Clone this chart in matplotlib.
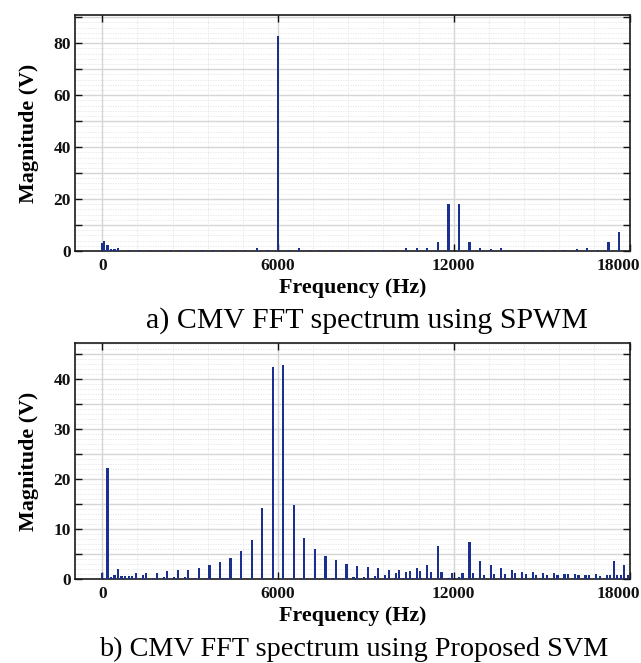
import matplotlib
matplotlib.use("Agg")
import matplotlib.pyplot as plt
from matplotlib.ticker import MultipleLocator, FixedLocator
from matplotlib.transforms import ScaledTranslation
import numpy as np

# ---------------- data ----------------
# (a) SPWM spectrum
spwm_freq = [0, 60, 180, 300, 420, 540, 900, 1260, 1620, 1980, 2340, 2700, 3060,
             3420, 3780, 4140, 4500, 4860, 5280, 5640, 6000, 6360, 6720, 7080,
             7440, 7800, 8160, 8520, 8880, 9240, 9600, 9960, 10380, 10740, 11100,
             11460, 11820, 12180, 12540, 12900, 13260, 13620, 13980, 14340, 14700,
             15060, 15420, 15780, 16200, 16560, 16920, 17280, 17640]
spwm_mag = [3.0, 3.9, 2.3, 0.7, 0.7, 1.0, 0.4, 0.4, 0.3, 0.5, 0.3, 0.5, 0.4,
            0.5, 0.4, 0.5, 0.4, 0.5, 1.0, 0.5, 82.9, 0.4, 1.0, 0.4,
            0.4, 0.4, 0.4, 0.4, 0.4, 0.4, 0.4, 0.5, 1.1, 1.0, 1.3,
            3.3, 18.0, 18.0, 3.3, 1.3, 0.6, 1.0, 0.4, 0.4, 0.5,
            0.4, 0.5, 0.5, 0.8, 1.3, 0.4, 3.4, 7.3]

# (b) Proposed SVM spectrum
svm_freq = [0, 180, 300, 420, 540, 660, 780, 900, 1020, 1140, 1380, 1500, 1740,
            1860, 2100, 2220, 2460, 2580, 2820, 2940, 3180, 3300, 3540, 3660,
            4020, 4140, 4260, 4380, 4740, 5100, 5460, 5820, 6180, 6540, 6900,
            7260, 7500, 7620, 7860, 7980, 8220, 8340, 8580, 8700, 8940, 9060,
            9300, 9420, 9660, 9780, 10020, 10140, 10260, 10380, 10500, 10620,
            10740, 10860, 11100, 11220, 11460, 11580, 11820, 11940, 12180,
            12300, 12540, 12660, 12900, 13020, 13260, 13380, 13620, 13740,
            13980, 14100, 14340, 14460, 14700, 14820, 15060, 15180, 15420,
            15540, 15780, 15900, 16140, 16260, 16500, 16620, 16860, 16980,
            17220, 17340, 17460, 17580, 17700, 17820, 17940]
svm_mag = [1.2, 22.3, 0.5, 0.8, 2.0, 0.7, 0.7, 0.7, 0.7, 1.2, 0.9, 1.2, 0.3,
           1.3, 0.5, 1.7, 0.5, 1.9, 0.4, 1.9, 0.3, 2.3, 0.3, 2.9,
           3.4, 0.2, 0.2, 4.2, 5.6, 7.8, 14.3, 42.4, 42.9, 14.9, 8.3,
           6.0, 0.1, 4.7, 0.3, 3.8, 0.3, 3.0, 0.5, 2.7, 0.5, 2.5,
           0.7, 2.2, 0.8, 1.9, 1.2, 1.9, 0.2, 1.5, 1.7, 0.2,
           2.2, 1.7, 2.9, 1.5, 6.6, 1.5, 0.2, 1.2, 0.4,
           1.3, 7.4, 1.2, 3.7, 0.8, 2.9, 1.0, 2.3, 1.0,
           1.9, 1.2, 1.5, 1.0, 1.4, 0.9, 1.2, 0.9, 1.2,
           0.9, 1.0, 1.0, 1.1, 0.9, 0.8, 0.8, 1.0, 0.7,
           0.9, 0.9, 3.6, 0.9, 0.8, 2.9, 0.9]

x_ticks = [0, 6000, 12000, 18000]
x_ticklabels = ["0", "6000", "12000", "18000"]
top_yticks = [0, 20, 40, 60, 80]
bot_yticks = [0, 10, 20, 30, 40]

captions = ["a) CMV FFT spectrum using SPWM", "b) CMV FFT spectrum using Proposed SVM"]

# ---------------- style ----------------
W, H = 641, 663
fig = plt.figure(figsize=(W / 100, H / 100), dpi=100)
serif = ["Liberation Serif", "DejaVu Serif"]
bar_color = "#1b2f8e"


def px_rect(l, t, r, b):
    return [l / W, 1 - b / H, (r - l) / W, (b - t) / H]


def style_axes(ax, ylim, ymin, ydot, yticks):
    ax.set_xlim(-930, 18000)
    ax.set_ylim(*ylim)
    ax.set_xticks(x_ticks)
    ax.set_xticklabels(x_ticklabels)
    ax.set_yticks(yticks)
    ax.yaxis.set_minor_locator(MultipleLocator(ymin))
    ax.xaxis.set_minor_locator(FixedLocator([]))
    # dotted fine grid
    for v in np.arange(ydot, ylim[1], ydot):
        ax.axhline(v, color="#e4e4e4", lw=0.6, ls=(0, (1.5, 1.5)), zorder=0)
    for v in np.arange(0, 18000, 1200):
        if v % 6000 != 0:
            ax.axvline(v, color="#e4e4e4", lw=0.6, ls=(0, (1.5, 1.5)), zorder=0)
    for v in np.arange(ymin, ylim[1], ymin):
        ax.axhline(v, color="#d6d6d6", lw=1.0, zorder=0.5)
    for v in x_ticks:
        ax.axvline(v, color="#d6d6d6", lw=1.0, zorder=0.5)
    ax.tick_params(which="both", direction="in", top=True, right=True,
                   length=5, width=1.0, pad=3, labelsize=12.5, colors="#111")
    ax.tick_params(axis="x", pad=5)
    for lab in ax.get_xticklabels() + ax.get_yticklabels():
        lab.set_fontfamily(serif)
        lab.set_fontweight("bold")
    # keep the last x tick label inside the figure
    last = ax.get_xticklabels()[-1]
    last.set_transform(last.get_transform() + ScaledTranslation(-11 / 100, 0, fig.dpi_scale_trans))
    for s in ax.spines.values():
        s.set_linewidth(1.2)
        s.set_color("#1a1a1a")
    ax.set_axisbelow(True)


ax1 = fig.add_axes(px_rect(75, 14.7, 629.5, 251))
ax1.bar(spwm_freq, spwm_mag, width=75, color=bar_color, zorder=3)
style_axes(ax1, (0, 91), 10, 2, top_yticks)

ax2 = fig.add_axes(px_rect(75, 343.3, 629.5, 579.3))
ax2.bar(svm_freq, svm_mag, width=75, color=bar_color, zorder=3)
style_axes(ax2, (0, 47.2), 5, 1, bot_yticks)

lab_kw = dict(fontfamily=serif, fontweight="bold", fontsize=15.8, ha="center", va="center")
fig.text(353 / W, 1 - 288 / H, "Frequency (Hz)", **lab_kw)
fig.text(353 / W, 1 - 616 / H, "Frequency (Hz)", **lab_kw)
fig.text(29 / W, 1 - 133 / H, "Magnitude (V)", rotation=90, **lab_kw)
fig.text(29 / W, 1 - 461 / H, "Magnitude (V)", rotation=90, **lab_kw)

cap_kw = dict(fontfamily=serif, ha="center", va="center")
fig.text(367 / W, 1 - 321 / H, captions[0], fontsize=21.5, **cap_kw)
fig.text(354 / W, 1 - 649 / H, captions[1], fontsize=20.3, **cap_kw)

fig.savefig("out.png", dpi=100, facecolor="white")
